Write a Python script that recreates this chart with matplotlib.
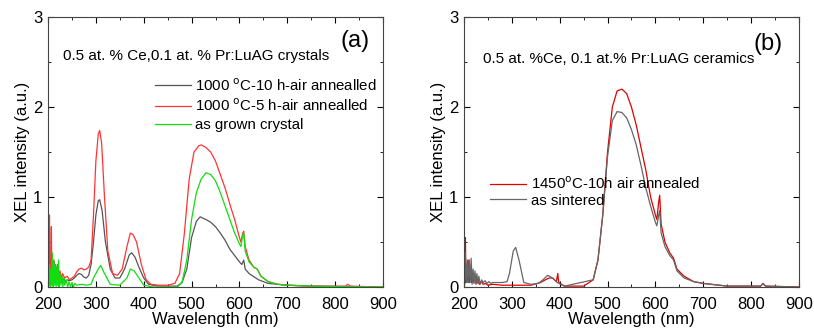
import matplotlib
matplotlib.use("Agg")
import matplotlib.pyplot as plt
from matplotlib.ticker import MultipleLocator

plt.rcParams['font.family'] = ['Liberation Sans', 'DejaVu Sans']

# ---- panel (a): crystals ----
a_gray_x = [200, 202, 203, 205, 206, 208, 209, 211, 213, 214, 216, 218, 220, 222, 224, 226, 228, 230, 233, 236, 240, 245, 250,
            255, 260, 265, 270, 275, 280, 285, 290, 295, 300, 305, 308, 313, 320, 330, 340, 350, 360, 370, 375, 382, 390, 400,
            410, 430, 470, 480, 490, 500, 510, 518, 530, 540, 550, 560, 570, 580, 590, 600, 605, 609, 612, 620, 640, 660, 700,
            750, 800, 900]
a_gray_y = [0.0, 0.05, 0.3, 0.05, 0.32, 0.08, 0.3, 0.1, 0.28, 0.05, 0.25, 0.08, 0.2, 0.06, 0.15, 0.05, 0.12, 0.05, 0.1, 0.06, 0.08, 0.07, 0.08,
            0.1, 0.13, 0.15, 0.14, 0.11, 0.1, 0.13, 0.25, 0.5, 0.8, 0.96, 0.97, 0.85, 0.5, 0.2, 0.1, 0.1, 0.2, 0.36, 0.38, 0.33, 0.22, 0.1,
            0.03, 0.01, 0.01, 0.05, 0.2, 0.55, 0.73, 0.78, 0.75, 0.72, 0.67, 0.6, 0.52, 0.42, 0.35, 0.28, 0.25, 0.3, 0.2, 0.15, 0.08, 0.04, 0.02,
            0.01, 0.005, 0.0]

a_red_x = [200, 202, 203, 204, 206, 207, 208, 210, 212, 214, 216, 218, 220, 222, 225, 228, 230, 235, 240, 245, 250, 255, 260, 265,
           270, 275, 280, 285, 290, 295, 300, 305, 308, 312, 318, 325, 335, 345, 355, 365, 372, 378, 385, 395, 405, 415, 430, 450,
           465, 475, 485, 495, 505, 515, 520, 530, 540, 550, 560, 570, 580, 590, 600, 603, 607, 609, 612, 620, 630, 637, 645, 660,
           680, 700, 750, 800, 822, 826, 832, 860, 900]
a_red_y = [0.0, 0.05, 0.8, 0.1, 0.15, 0.67, 0.1, 0.2, 0.3, 0.1, 0.2, 0.12, 0.25, 0.1, 0.18, 0.08, 0.15, 0.1, 0.12, 0.08, 0.1, 0.12, 0.17, 0.2,
           0.21, 0.19, 0.2, 0.22, 0.3, 0.8, 1.4, 1.7, 1.74, 1.6, 1.0, 0.4, 0.15, 0.13, 0.2, 0.45, 0.6, 0.58, 0.5, 0.25, 0.08, 0.03, 0.02, 0.02,
           0.04, 0.15, 0.6, 1.2, 1.5, 1.57, 1.58, 1.55, 1.5, 1.4, 1.25, 1.1, 0.92, 0.75, 0.55, 0.5, 0.6, 0.62, 0.45, 0.3, 0.22, 0.2, 0.12, 0.06,
           0.03, 0.02, 0.01, 0.01, 0.01, 0.03, 0.01, 0.005, 0.0]

a_green_x = [200, 202, 203, 205, 206, 208, 209, 211, 212, 214, 215, 217, 218, 220, 222, 223, 225, 227, 229, 231, 233, 235, 238, 241,
             244, 247, 250, 253, 256, 260, 270, 280, 290, 295, 300, 305, 310, 318, 330, 350, 365, 372, 380, 390, 400, 420, 470, 480,
             490, 500, 510, 520, 530, 540, 550, 560, 570, 580, 590, 600, 603, 607, 609, 612, 620, 630, 637, 645, 660, 680, 700, 750,
             800, 900]
a_green_y = [0.0, 0.02, 0.25, 0.0, 0.2, 0.02, 0.38, 0.0, 0.3, 0.02, 0.25, 0.0, 0.22, 0.02, 0.3, 0.0, 0.15, 0.02, 0.12, 0.0, 0.1, 0.02, 0.08, 0.0,
             0.06, 0.0, 0.05, 0.0, 0.04, 0.02, 0.03, 0.02, 0.03, 0.1, 0.15, 0.2, 0.24, 0.15, 0.03, 0.02, 0.1, 0.2, 0.18, 0.1, 0.02, 0.0, 0.0, 0.05,
             0.3, 0.75, 1.05, 1.2, 1.27, 1.25, 1.18, 1.05, 0.9, 0.75, 0.6, 0.48, 0.45, 0.58, 0.6, 0.4, 0.28, 0.22, 0.2, 0.12, 0.06, 0.03, 0.02, 0.01,
             0.005, 0.0]

# ---- panel (b): ceramics ----
b_red_x = [200, 202, 203, 204, 206, 208, 210, 211, 213, 215, 216, 218, 220, 223, 226, 229, 232, 236, 240, 245, 250, 260, 280, 300,
           320, 340, 360, 370, 378, 385, 393, 396, 398, 410, 450, 470, 480, 490, 500, 510, 520, 530, 540, 550, 560, 570, 580, 590,
           600, 603, 607, 609, 612, 620, 630, 638, 645, 660, 680, 700, 750, 820, 825, 830, 900]
b_red_y = [0.0, 0.05, 0.55, 0.05, 0.2, 0.05, 0.3, 0.05, 0.15, 0.2, 0.05, 0.12, 0.05, 0.1, 0.04, 0.08, 0.03, 0.06, 0.03, 0.04, 0.02, 0.03, 0.02, 0.02,
           0.02, 0.02, 0.05, 0.08, 0.1, 0.1, 0.06, 0.15, 0.05, 0.01, 0.01, 0.08, 0.3, 0.8, 1.5, 2.0, 2.18, 2.2, 2.15, 2.0, 1.8, 1.55, 1.3, 1.0,
           0.8, 0.75, 0.95, 1.02, 0.7, 0.5, 0.38, 0.32, 0.2, 0.12, 0.06, 0.04, 0.01, 0.01, 0.04, 0.01, 0.0]

b_gray_x = [200, 202, 203, 205, 207, 209, 211, 213, 215, 217, 219, 221, 223, 225, 227, 229, 231, 234, 237, 240, 244, 248, 252, 256,
            260, 270, 280, 290, 295, 303, 308, 315, 325, 340, 355, 365, 375, 385, 395, 410, 470, 480, 490, 500, 510, 520, 530, 540,
            550, 560, 570, 580, 590, 600, 603, 607, 609, 612, 620, 630, 638, 645, 660, 680, 700, 750, 820, 825, 830, 900]
b_gray_y = [0.0, 0.1, 0.38, 0.05, 0.3, 0.05, 0.3, 0.05, 0.32, 0.03, 0.2, 0.04, 0.18, 0.03, 0.15, 0.04, 0.12, 0.03, 0.08, 0.05, 0.07, 0.04, 0.06, 0.04,
            0.05, 0.05, 0.05, 0.06, 0.15, 0.4, 0.44, 0.3, 0.05, 0.03, 0.04, 0.08, 0.13, 0.1, 0.05, 0.01, 0.08, 0.3, 0.8, 1.45, 1.85, 1.95, 1.94, 1.88,
            1.75, 1.58, 1.35, 1.1, 0.9, 0.72, 0.68, 0.8, 0.85, 0.6, 0.45, 0.35, 0.3, 0.18, 0.1, 0.06, 0.04, 0.01, 0.01, 0.04, 0.01, 0.0]

x_ticks = [200, 300, 400, 500, 600, 700, 800, 900]
y_ticks = [0, 1, 2, 3]


def style_axes(ax):
    ax.set_xlim(200, 900)
    ax.set_ylim(0, 3)
    ax.set_xticks(x_ticks)
    ax.set_yticks(y_ticks)
    ax.xaxis.set_minor_locator(MultipleLocator(50))
    ax.yaxis.set_minor_locator(MultipleLocator(0.5))
    ax.tick_params(which='both', direction='in', top=True, right=True, labelsize=12)
    ax.tick_params(axis='x', pad=7)
    ax.tick_params(axis='y', pad=4)
    ax.tick_params(which='major', length=4)
    ax.tick_params(which='minor', length=2.5)
    for sp in ax.spines.values():
        sp.set_color('#444444')
    ax.set_xlabel('Wavelength (nm)', fontsize=12, labelpad=0)
    ax.set_ylabel('XEL intensity (a.u.)', fontsize=12, labelpad=2)


fig = plt.figure(figsize=(8.14, 3.34), dpi=100)

ax1 = fig.add_axes([0.059, 0.1407, 0.4115, 0.808])
ax1.plot(a_gray_x, a_gray_y, color='#555555', lw=0.9, label='1000 $^{\\rm o}$C-10 h-air annealled')
ax1.plot(a_red_x, a_red_y, color='#ff3333', lw=0.9, label='1000 $^{\\rm o}$C-5 h-air annealled')
ax1.plot(a_green_x, a_green_y, color='#11dd11', lw=0.9, label='as grown crystal')
style_axes(ax1)
ax1.text(231, 2.57, '0.5 at. % Ce,0.1 at. % Pr:LuAG crystals', fontsize=11, va='center')
ax1.text(841, 2.73, '(a)', fontsize=17, ha='center', va='center')
ax1.legend(loc='upper left', bbox_to_anchor=(0.30, 0.80), frameon=False, fontsize=10.8,
           handlelength=2.4, handletextpad=0.3, labelspacing=0.25, borderaxespad=0)

ax2 = fig.add_axes([0.570, 0.1407, 0.4115, 0.808])
ax2.plot(b_red_x, b_red_y, color='#e00000', lw=0.9, label='1450$^{\\rm o}$C-10h air annealed')
ax2.plot(b_gray_x, b_gray_y, color='#666666', lw=0.9, label='as sintered')
style_axes(ax2)
ax2.text(240, 2.54, '0.5 at. %Ce, 0.1 at.% Pr:LuAG ceramics', fontsize=11, va='center')
ax2.text(836, 2.7, '(b)', fontsize=17, ha='center', va='center')
ax2.legend(loc='upper left', bbox_to_anchor=(0.06, 0.435), frameon=False, fontsize=10.8,
           handlelength=2.4, handletextpad=0.3, labelspacing=0.1, borderaxespad=0)

fig.savefig('out.png', dpi=100)
